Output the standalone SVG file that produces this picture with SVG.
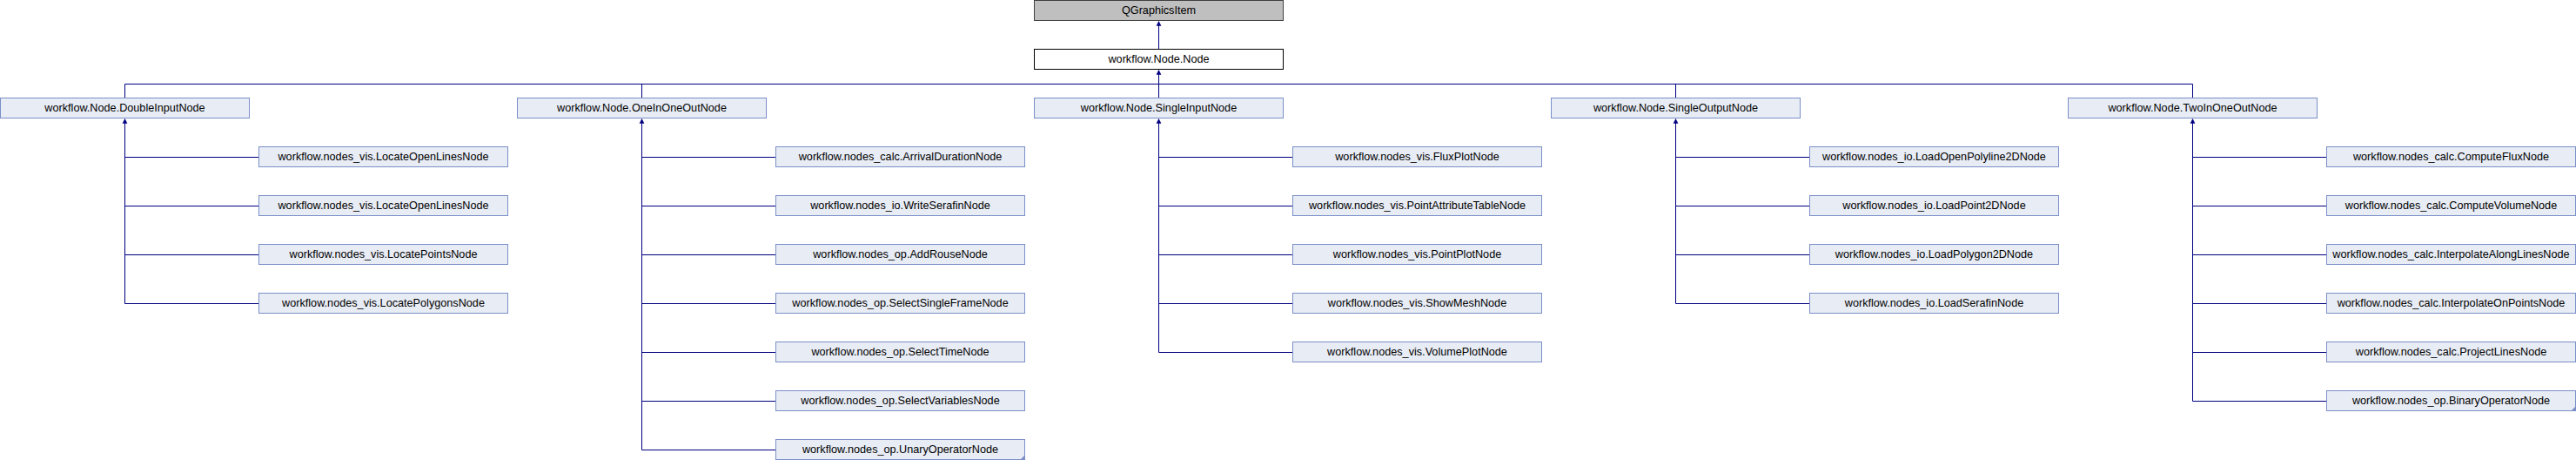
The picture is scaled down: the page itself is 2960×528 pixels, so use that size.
<svg xmlns="http://www.w3.org/2000/svg" width="2960" height="528" viewBox="0 0 2960 528">
<style>
.n rect{fill:#e8ecf5;stroke:#7b8fc8;stroke-width:1}
.n text{font-family:"Liberation Sans",Arial,sans-serif;font-size:12.67px;fill:#000;text-anchor:middle}
.root rect{fill:#bfbfbf;stroke:#404040}
.base rect{fill:#ffffff;stroke:#000000}
.e line{stroke:#000080;stroke-width:1;fill:none}
.e polygon{fill:#000080;stroke:#000080;stroke-width:0.5}
.c{fill:#7b8fc8}
</style>
<rect width="2960" height="528" fill="#ffffff"/>
<g id="connectors" class="e">
<line x1="1331.5" y1="25" x2="1331.5" y2="56"/>
<polygon points="1331.5,24.5 1329,29.5 1334,29.5"/>
<line x1="1331.5" y1="81" x2="1331.5" y2="112"/>
<polygon points="1331.5,80.5 1329,85.5 1334,85.5"/>
<line x1="143.5" y1="96.5" x2="2519.5" y2="96.5"/>
<line x1="143.5" y1="96.5" x2="143.5" y2="112"/>
<line x1="737.5" y1="96.5" x2="737.5" y2="112"/>
<line x1="1925.5" y1="96.5" x2="1925.5" y2="112"/>
<line x1="2519.5" y1="96.5" x2="2519.5" y2="112"/>
<line x1="143.5" y1="137" x2="143.5" y2="348.5"/>
<polygon points="143.5,136.5 141,141.5 146,141.5"/>
<line x1="143.5" y1="180.5" x2="297" y2="180.5"/>
<line x1="143.5" y1="236.5" x2="297" y2="236.5"/>
<line x1="143.5" y1="292.5" x2="297" y2="292.5"/>
<line x1="143.5" y1="348.5" x2="297" y2="348.5"/>
<line x1="737.5" y1="137" x2="737.5" y2="516.5"/>
<polygon points="737.5,136.5 735,141.5 740,141.5"/>
<line x1="737.5" y1="180.5" x2="891" y2="180.5"/>
<line x1="737.5" y1="236.5" x2="891" y2="236.5"/>
<line x1="737.5" y1="292.5" x2="891" y2="292.5"/>
<line x1="737.5" y1="348.5" x2="891" y2="348.5"/>
<line x1="737.5" y1="404.5" x2="891" y2="404.5"/>
<line x1="737.5" y1="460.5" x2="891" y2="460.5"/>
<line x1="737.5" y1="516.5" x2="891" y2="516.5"/>
<line x1="1331.5" y1="137" x2="1331.5" y2="404.5"/>
<polygon points="1331.5,136.5 1329,141.5 1334,141.5"/>
<line x1="1331.5" y1="180.5" x2="1485" y2="180.5"/>
<line x1="1331.5" y1="236.5" x2="1485" y2="236.5"/>
<line x1="1331.5" y1="292.5" x2="1485" y2="292.5"/>
<line x1="1331.5" y1="348.5" x2="1485" y2="348.5"/>
<line x1="1331.5" y1="404.5" x2="1485" y2="404.5"/>
<line x1="1925.5" y1="137" x2="1925.5" y2="348.5"/>
<polygon points="1925.5,136.5 1923,141.5 1928,141.5"/>
<line x1="1925.5" y1="180.5" x2="2079" y2="180.5"/>
<line x1="1925.5" y1="236.5" x2="2079" y2="236.5"/>
<line x1="1925.5" y1="292.5" x2="2079" y2="292.5"/>
<line x1="1925.5" y1="348.5" x2="2079" y2="348.5"/>
<line x1="2519.5" y1="137" x2="2519.5" y2="460.5"/>
<polygon points="2519.5,136.5 2517,141.5 2522,141.5"/>
<line x1="2519.5" y1="180.5" x2="2673" y2="180.5"/>
<line x1="2519.5" y1="236.5" x2="2673" y2="236.5"/>
<line x1="2519.5" y1="292.5" x2="2673" y2="292.5"/>
<line x1="2519.5" y1="348.5" x2="2673" y2="348.5"/>
<line x1="2519.5" y1="404.5" x2="2673" y2="404.5"/>
<line x1="2519.5" y1="460.5" x2="2673" y2="460.5"/>
</g>
<g id="QGraphicsItem" class="n root"><rect x="1188.5" y="0.5" width="286" height="23"/><text x="1331.5" y="16">QGraphicsItem</text></g>
<g id="Node" class="n base"><rect x="1188.5" y="56.5" width="286" height="23"/><text x="1331.5" y="72">workflow.Node.Node</text></g>
<g id="DoubleInputNode" class="n"><rect x="0.5" y="112.5" width="286" height="23"/><text x="143.5" y="128">workflow.Node.DoubleInputNode</text></g>
<g id="OneInOneOutNode" class="n"><rect x="594.5" y="112.5" width="286" height="23"/><text x="737.5" y="128">workflow.Node.OneInOneOutNode</text></g>
<g id="SingleInputNode" class="n"><rect x="1188.5" y="112.5" width="286" height="23"/><text x="1331.5" y="128">workflow.Node.SingleInputNode</text></g>
<g id="SingleOutputNode" class="n"><rect x="1782.5" y="112.5" width="286" height="23"/><text x="1925.5" y="128">workflow.Node.SingleOutputNode</text></g>
<g id="TwoInOneOutNode" class="n"><rect x="2376.5" y="112.5" width="286" height="23"/><text x="2519.5" y="128">workflow.Node.TwoInOneOutNode</text></g>
<g id="LocateOpenLinesNode1" class="n"><rect x="297.5" y="168.5" width="286" height="23"/><text x="440.5" y="184">workflow.nodes_vis.LocateOpenLinesNode</text></g>
<g id="LocateOpenLinesNode2" class="n"><rect x="297.5" y="224.5" width="286" height="23"/><text x="440.5" y="240">workflow.nodes_vis.LocateOpenLinesNode</text></g>
<g id="LocatePointsNode" class="n"><rect x="297.5" y="280.5" width="286" height="23"/><text x="440.5" y="296">workflow.nodes_vis.LocatePointsNode</text></g>
<g id="LocatePolygonsNode" class="n"><rect x="297.5" y="336.5" width="286" height="23"/><text x="440.5" y="352">workflow.nodes_vis.LocatePolygonsNode</text></g>
<g id="ArrivalDurationNode" class="n"><rect x="891.5" y="168.5" width="286" height="23"/><text x="1034.5" y="184">workflow.nodes_calc.ArrivalDurationNode</text></g>
<g id="WriteSerafinNode" class="n"><rect x="891.5" y="224.5" width="286" height="23"/><text x="1034.5" y="240">workflow.nodes_io.WriteSerafinNode</text></g>
<g id="AddRouseNode" class="n"><rect x="891.5" y="280.5" width="286" height="23"/><text x="1034.5" y="296">workflow.nodes_op.AddRouseNode</text></g>
<g id="SelectSingleFrameNode" class="n"><rect x="891.5" y="336.5" width="286" height="23"/><text x="1034.5" y="352">workflow.nodes_op.SelectSingleFrameNode</text></g>
<g id="SelectTimeNode" class="n"><rect x="891.5" y="392.5" width="286" height="23"/><text x="1034.5" y="408">workflow.nodes_op.SelectTimeNode</text></g>
<g id="SelectVariablesNode" class="n"><rect x="891.5" y="448.5" width="286" height="23"/><text x="1034.5" y="464">workflow.nodes_op.SelectVariablesNode</text></g>
<g id="UnaryOperatorNode" class="n"><rect x="891.5" y="504.5" width="286" height="23"/><polygon class="c" points="1172,528 1178,522 1178,528"/><text x="1034.5" y="520">workflow.nodes_op.UnaryOperatorNode</text></g>
<g id="FluxPlotNode" class="n"><rect x="1485.5" y="168.5" width="286" height="23"/><text x="1628.5" y="184">workflow.nodes_vis.FluxPlotNode</text></g>
<g id="PointAttributeTableNode" class="n"><rect x="1485.5" y="224.5" width="286" height="23"/><text x="1628.5" y="240">workflow.nodes_vis.PointAttributeTableNode</text></g>
<g id="PointPlotNode" class="n"><rect x="1485.5" y="280.5" width="286" height="23"/><text x="1628.5" y="296">workflow.nodes_vis.PointPlotNode</text></g>
<g id="ShowMeshNode" class="n"><rect x="1485.5" y="336.5" width="286" height="23"/><text x="1628.5" y="352">workflow.nodes_vis.ShowMeshNode</text></g>
<g id="VolumePlotNode" class="n"><rect x="1485.5" y="392.5" width="286" height="23"/><text x="1628.5" y="408">workflow.nodes_vis.VolumePlotNode</text></g>
<g id="LoadOpenPolyline2DNode" class="n"><rect x="2079.5" y="168.5" width="286" height="23"/><text x="2222.5" y="184">workflow.nodes_io.LoadOpenPolyline2DNode</text></g>
<g id="LoadPoint2DNode" class="n"><rect x="2079.5" y="224.5" width="286" height="23"/><text x="2222.5" y="240">workflow.nodes_io.LoadPoint2DNode</text></g>
<g id="LoadPolygon2DNode" class="n"><rect x="2079.5" y="280.5" width="286" height="23"/><text x="2222.5" y="296">workflow.nodes_io.LoadPolygon2DNode</text></g>
<g id="LoadSerafinNode" class="n"><rect x="2079.5" y="336.5" width="286" height="23"/><text x="2222.5" y="352">workflow.nodes_io.LoadSerafinNode</text></g>
<g id="ComputeFluxNode" class="n"><rect x="2673.5" y="168.5" width="286" height="23"/><text x="2816.5" y="184">workflow.nodes_calc.ComputeFluxNode</text></g>
<g id="ComputeVolumeNode" class="n"><rect x="2673.5" y="224.5" width="286" height="23"/><text x="2816.5" y="240">workflow.nodes_calc.ComputeVolumeNode</text></g>
<g id="InterpolateAlongLinesNode" class="n"><rect x="2673.5" y="280.5" width="286" height="23"/><text x="2816.5" y="296">workflow.nodes_calc.InterpolateAlongLinesNode</text></g>
<g id="InterpolateOnPointsNode" class="n"><rect x="2673.5" y="336.5" width="286" height="23"/><text x="2816.5" y="352">workflow.nodes_calc.InterpolateOnPointsNode</text></g>
<g id="ProjectLinesNode" class="n"><rect x="2673.5" y="392.5" width="286" height="23"/><text x="2816.5" y="408">workflow.nodes_calc.ProjectLinesNode</text></g>
<g id="BinaryOperatorNode" class="n"><rect x="2673.5" y="448.5" width="286" height="23"/><polygon class="c" points="2954,472 2960,466 2960,472"/><text x="2816.5" y="464">workflow.nodes_op.BinaryOperatorNode</text></g>
</svg>
